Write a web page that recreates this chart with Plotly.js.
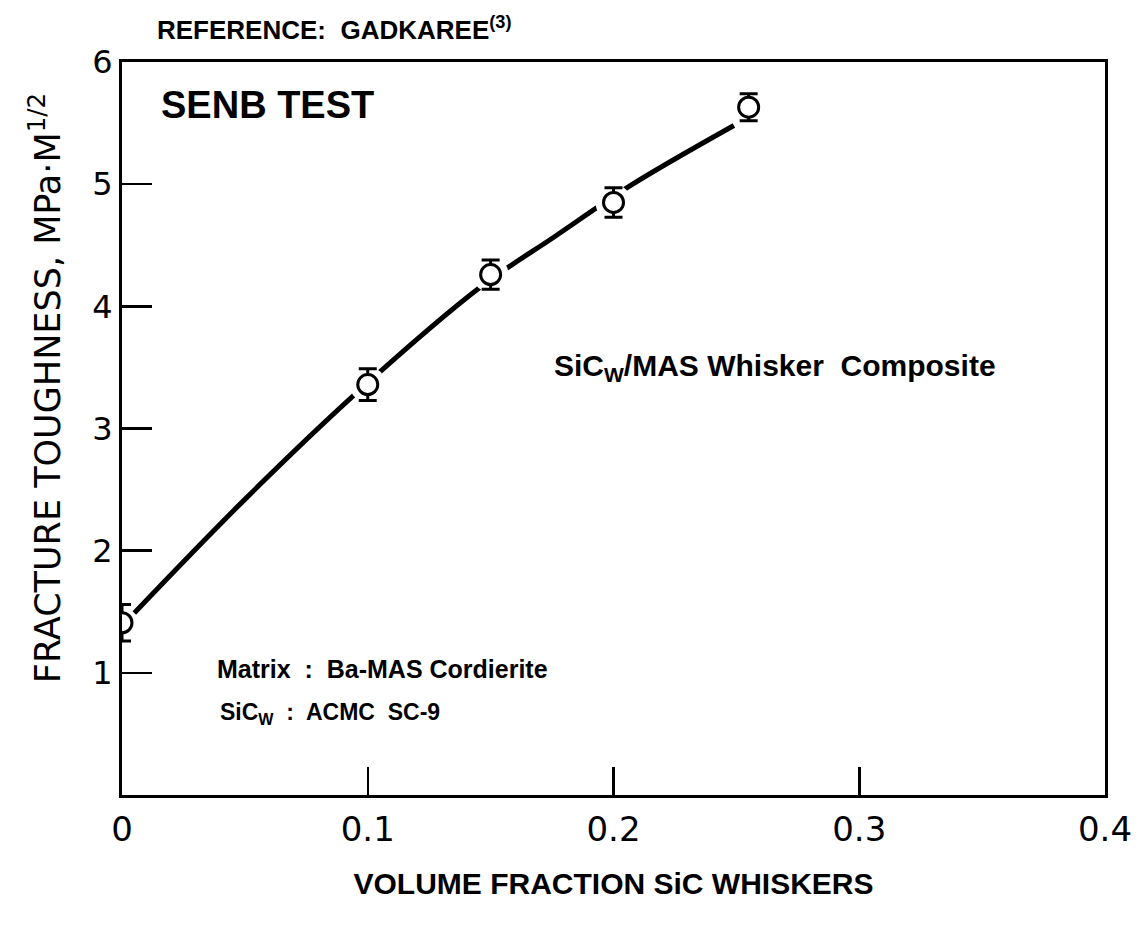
<!DOCTYPE html>
<html><head><meta charset="utf-8">
<script src="https://cdn.plot.ly/plotly-3.0.1.min.js"></script>
<style>body{margin:0;background:#fff}#chart{width:1138px;height:934px}</style>
</head><body><div id="chart"></div>
<script>
// measured points
const volumeFraction = [0, 0.1, 0.15, 0.2, 0.255];
const toughness = [1.41, 3.36, 4.26, 4.85, 5.63];
const toughnessErr = [0.15, 0.13, 0.12, 0.12, 0.11];
// hand-drawn trend curve
const curveX = [0.005, 0.050, 0.097, 0.146, 0.176, 0.207, 0.249];
const curveY = [1.49, 2.42, 3.32, 4.16, 4.57, 4.99, 5.48];
const xTicks = [0, 0.1, 0.2, 0.3, 0.4];
const xTickLabels = ["0", "0.1", "0.2", "0.3", "0.4"];
const yTicks = [1, 2, 3, 4, 5, 6];
const yTickLabels = ["1", "2", "3", "4", "5", "6"];

const FONT = "DejaVu Sans, Liberation Sans, sans-serif";
const BOLD = "Liberation Sans, Arial, sans-serif";

const traces = [
  {x: curveX, y: curveY, mode: "lines", line: {color: "#000", width: 5, shape: "spline", smoothing: 1}, hoverinfo: "skip", showlegend: false},
  {x: volumeFraction.slice(1), y: toughness.slice(1), mode: "markers", marker: {size: 36, color: "#fff", line: {width: 0}}, hoverinfo: "skip", showlegend: false},
  {x: volumeFraction, y: toughness, mode: "markers",
   marker: {symbol: "circle", size: 20, color: "#fff", line: {color: "#000", width: 3}},
   error_y: {type: "data", array: toughnessErr, visible: true, color: "#000", thickness: 3, width: 9},
   showlegend: false}
];

const layout = {
  width: 1138, height: 934,
  margin: {l: 122, r: 33, t: 62, b: 139},
  paper_bgcolor: "#fff", plot_bgcolor: "#fff",
  showlegend: false,
  xaxis: {
    range: [0, 0.4], tickvals: xTicks, ticktext: xTickLabels,
    ticks: "inside", ticklen: 28, tickwidth: 2.5, tickcolor: "#000",
    showline: true, linecolor: "#000", linewidth: 3, mirror: true,
    showgrid: false, zeroline: false,
    tickfont: {family: FONT, size: 34, color: "#000"},
    ticklabelstandoff: 2,
    title: {text: "<b>VOLUME FRACTION SiC WHISKERS</b>", font: {family: BOLD, size: 30, color: "#000"}, standoff: 26}
  },
  yaxis: {
    range: [0, 6], tickvals: yTicks, ticktext: yTickLabels,
    ticks: "inside", ticklen: 30, tickwidth: 2.5, tickcolor: "#000",
    showline: true, linecolor: "#000", linewidth: 3, mirror: true,
    showgrid: false, zeroline: false,
    tickfont: {family: FONT, size: 32, color: "#000"}
  },
  annotations: [
    {xref: "paper", yref: "paper", x: 0, y: 0.555, xshift: -77, xanchor: "center", yanchor: "middle", textangle: -90, showarrow: false,
     text: "FRACTURE TOUGHNESS, MPa·M<sup>1/2</sup>", font: {family: FONT, size: 35, color: "#000"}},
    {xref: "paper", yref: "paper", x: 0.034, y: 1.02, xanchor: "left", yanchor: "bottom", showarrow: false,
     text: "<b>REFERENCE:  GADKAREE<sup>(3)</sup></b>", font: {family: BOLD, size: 26, color: "#000"}},
    {xref: "x", yref: "y", x: 0.015, y: 5.65, xanchor: "left", yanchor: "middle", showarrow: false,
     text: "<b>SENB TEST</b>", font: {family: BOLD, size: 38, color: "#000"}},
    {xref: "x", yref: "y", x: 0.175, y: 3.5, xanchor: "left", yanchor: "middle", showarrow: false,
     text: "<b>SiC<sub>W</sub>/MAS Whisker  Composite</b>", font: {family: BOLD, size: 30, color: "#000"}},
    {xref: "x", yref: "y", x: 0.038, y: 1.03, xanchor: "left", yanchor: "middle", showarrow: false,
     text: "<b>Matrix  :  Ba-MAS Cordierite</b>", font: {family: BOLD, size: 25, color: "#000"}},
    {xref: "x", yref: "y", x: 0.039, y: 0.67, xanchor: "left", yanchor: "middle", showarrow: false,
     text: "<b>SiC<sub>W</sub>  :  ACMC  SC-9</b>", font: {family: BOLD, size: 23, color: "#000"}}
  ]
};

Plotly.newPlot("chart", traces, layout, {displayModeBar: false, staticPlot: true});
</script>
</body></html>
